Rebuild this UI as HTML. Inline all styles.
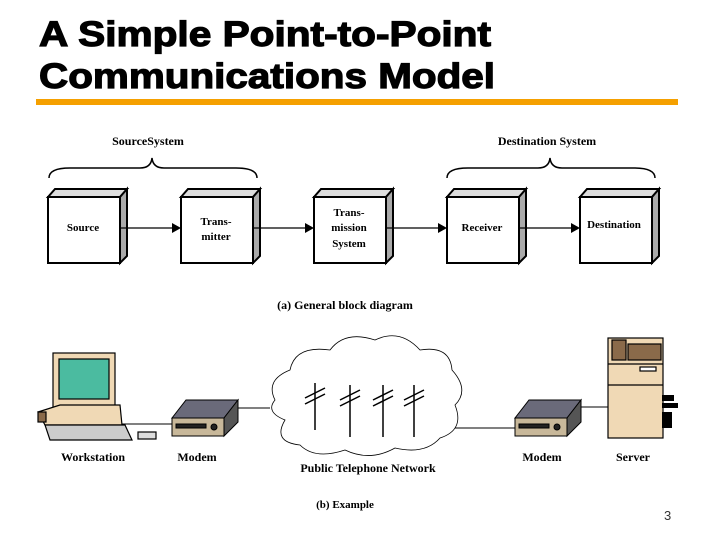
<!DOCTYPE html>
<html><head><style>
body{margin:0;width:720px;height:540px;background:#fff;overflow:hidden;font-family:"Liberation Sans",sans-serif}
</style></head><body>
<svg width="720" height="540" xmlns="http://www.w3.org/2000/svg">
<text x="39" y="46" font-family="Liberation Sans, sans-serif" font-weight="bold" font-size="35" fill="#000" stroke="#000" stroke-width="1.2" textLength="452" lengthAdjust="spacingAndGlyphs">A Simple Point-to-Point</text>
<text x="39" y="88" font-family="Liberation Sans, sans-serif" font-weight="bold" font-size="35" fill="#000" stroke="#000" stroke-width="1.2" textLength="456" lengthAdjust="spacingAndGlyphs">Communications Model</text>
<rect x="36" y="99" width="642" height="6" fill="#f5a000"/>
<g font-family="Liberation Serif, serif" font-weight="bold" font-size="12" fill="#000" text-anchor="middle">
<text x="148" y="145">SourceSystem</text>
<text x="547" y="145">Destination System</text>
<path d="M49,178 Q49,168 70,168 L140,168 Q151,168 152,158 Q153,168 164,168 L236,168 Q257,168 257,178" fill="none" stroke="#000" stroke-width="1.5"/>
<path d="M447,178 Q447,168 468,168 L538,168 Q549,168 550,158 Q551,168 562,168 L634,168 Q655,168 655,178" fill="none" stroke="#000" stroke-width="1.5"/>
<g stroke="#000" stroke-width="2">
<g id="b"><polygon points="48,197 55,189 127,189 120,197" fill="#ddd"/><polygon points="120,197 127,189 127,256 120,263" fill="#aaa"/><rect x="48" y="197" width="72" height="66" fill="#fff"/></g>
<use href="#b" x="133"/><use href="#b" x="266"/><use href="#b" x="399"/><use href="#b" x="532"/>
</g>
<g stroke="#000" stroke-width="1.2">
<line x1="120" y1="228" x2="172" y2="228"/><line x1="253" y1="228" x2="305" y2="228"/><line x1="386" y1="228" x2="438" y2="228"/><line x1="519" y1="228" x2="571" y2="228"/>
</g>
<g fill="#000"><polygon points="181,228 172,223 172,233"/><polygon points="314,228 305,223 305,233"/><polygon points="447,228 438,223 438,233"/><polygon points="580,228 571,223 571,233"/></g>
<text x="83" y="231" font-size="11">Source</text>
<text x="216" y="225" font-size="11">Trans-</text><text x="216" y="240" font-size="11">mitter</text>
<text x="349" y="216" font-size="11">Trans-</text><text x="349" y="231" font-size="11">mission</text><text x="349" y="247" font-size="11">System</text>
<text x="482" y="231" font-size="11">Receiver</text>
<text x="614" y="228" font-size="11">Destination</text>
<text x="345" y="309">(a) General block diagram</text>
<text x="93" y="461">Workstation</text>
<text x="197" y="461">Modem</text>
<text x="368" y="472">Public Telephone Network</text>
<text x="542" y="461">Modem</text>
<text x="633" y="461">Server</text>
<text x="345" y="508" font-size="11">(b) Example</text>
</g>
<g stroke="#000" stroke-width="1">
<line x1="100" y1="424" x2="175" y2="424"/><line x1="230" y1="408" x2="270" y2="408"/>
<line x1="455" y1="428" x2="520" y2="428"/><line x1="578" y1="407" x2="610" y2="407"/>
</g>
<path d="M275,400 Q265,380 290,370 Q295,345 330,350 Q345,330 375,340 Q400,328 420,350 Q450,345 452,370 Q470,390 455,405 Q465,430 440,438 Q425,455 395,448 Q370,462 345,450 Q315,460 300,445 Q272,442 285,420 Q265,412 275,400Z" fill="#fff" stroke="#000" stroke-width="0.8"/>
<g stroke="#000" stroke-width="1.5">
<line x1="315" y1="383" x2="315" y2="430"/><line x1="350" y1="385" x2="350" y2="437"/><line x1="383" y1="385" x2="383" y2="437"/><line x1="414" y1="385" x2="414" y2="437"/>
<line x1="305" y1="398" x2="325" y2="388"/><line x1="305" y1="404" x2="325" y2="394"/>
<line x1="340" y1="400" x2="360" y2="390"/><line x1="340" y1="406" x2="360" y2="396"/>
<line x1="373" y1="400" x2="393" y2="390"/><line x1="373" y1="406" x2="393" y2="396"/>
<line x1="404" y1="400" x2="424" y2="390"/><line x1="404" y1="406" x2="424" y2="396"/>
</g>
<g id="m" stroke="#000" stroke-width="1"><polygon points="172,418 186,400 238,400 224,418" fill="#6a6a7a"/><polygon points="224,418 238,400 238,422 224,436" fill="#555"/><rect x="172" y="418" width="52" height="18" fill="#c8b89a"/><rect x="176" y="424" width="30" height="4" fill="#222"/><circle cx="214" cy="427" r="3" fill="#222"/></g>
<use href="#m" x="343" y="0"/>
<g stroke="#000" stroke-width="1.2">
<rect x="53" y="353" width="62" height="55" fill="#f0d9b5"/><rect x="59" y="359" width="50" height="40" fill="#4bbba0"/>
<polygon points="38,412 60,405 120,405 122,425 45,425" fill="#f0d9b5"/><rect x="38" y="412" width="8" height="10" fill="#8a6a4a"/>
<polygon points="45,425 125,425 132,440 50,440" fill="#ccc"/><rect x="138" y="432" width="18" height="7" fill="#ddd"/>
<rect x="608" y="338" width="55" height="100" fill="#f0d9b5"/><rect x="612" y="340" width="14" height="20" fill="#8a6a4a"/><rect x="628" y="344" width="33" height="16" fill="#8a6a4a"/>
<line x1="608" y1="364" x2="663" y2="364"/><line x1="608" y1="385" x2="663" y2="385"/><rect x="640" y="367" width="16" height="4" fill="#fff"/>
</g>
<rect x="662" y="395" width="12" height="6" fill="#000"/><rect x="662" y="403" width="16" height="5" fill="#000"/><rect x="662" y="412" width="10" height="16" fill="#000"/>
<text x="664" y="520" font-size="13" fill="#333">3</text>
</svg>
</body></html>
